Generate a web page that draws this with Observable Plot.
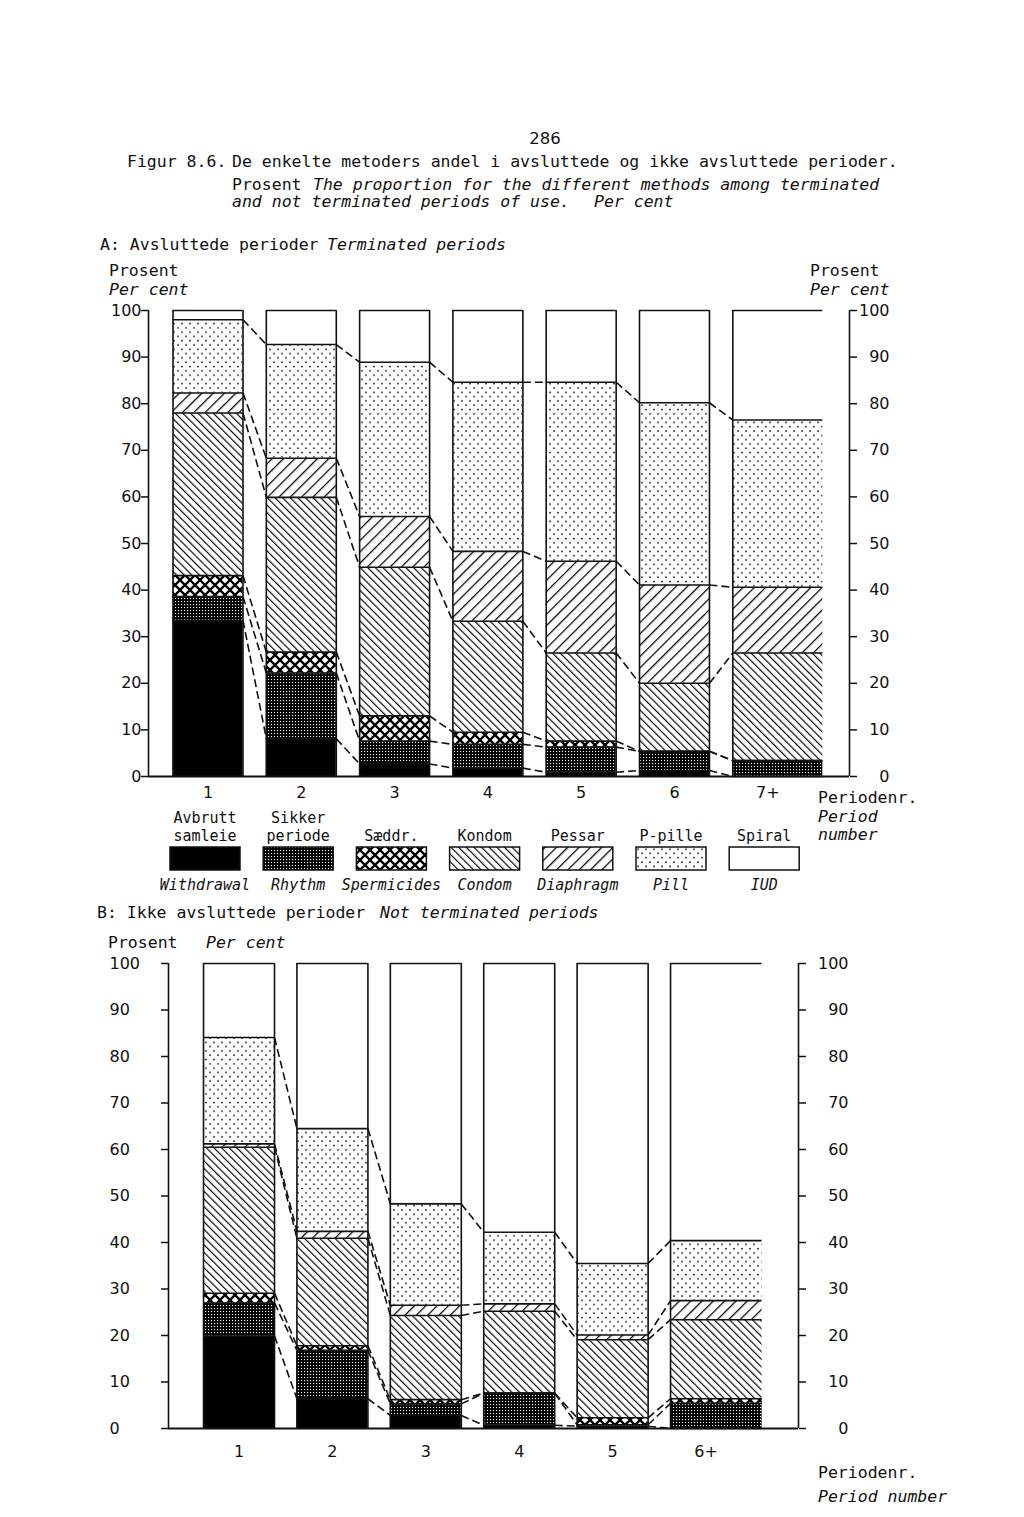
<!DOCTYPE html>
<html><head><meta charset="utf-8">
<script src="https://cdn.jsdelivr.net/npm/d3@7"></script>
<script src="https://cdn.jsdelivr.net/npm/@observablehq/plot@0.6"></script>
<style>
body{margin:0;background:#fff;}
#page{position:relative;width:1024px;height:1517px;overflow:hidden;background:#fff;}
#page > svg.plotA, #page > svg.plotB{position:absolute;left:0;}
#overlay{position:absolute;left:0;top:0;pointer-events:none;}
</style></head><body>
<svg width="0" height="0" style="position:absolute">
  <defs>
    <pattern id="p1" width="3" height="3" patternUnits="userSpaceOnUse">
      <rect width="3" height="3" fill="#000"/><rect x="1" y="1" width="1.1" height="1.1" fill="#fff"/>
    </pattern>
    <pattern id="p2" width="10" height="10" patternUnits="userSpaceOnUse">
      <rect width="10" height="10" fill="#fff"/>
      <path d="M-1,-1L11,11M11,-1L-1,11" stroke="#000" stroke-width="2.3"/>
    </pattern>
    <pattern id="p3" width="5.4" height="10" patternUnits="userSpaceOnUse" patternTransform="rotate(-45)">
      <rect width="5.4" height="10" fill="#fff"/><rect x="0" y="0" width="1.15" height="10" fill="#000"/>
    </pattern>
    <pattern id="p4" width="8" height="10" patternUnits="userSpaceOnUse" patternTransform="rotate(45)">
      <rect width="8" height="10" fill="#fff"/><rect x="0" y="0" width="1.25" height="10" fill="#000"/>
    </pattern>
    <pattern id="p5" width="8" height="8.6" patternUnits="userSpaceOnUse">
      <rect width="8" height="8.6" fill="#fff"/>
      <circle cx="2" cy="2" r="0.9" fill="#000"/><circle cx="6" cy="6.3" r="0.9" fill="#000"/>
    </pattern>
  </defs>
</svg>
<div id="page"></div>
<script>
// ---------- DATA ----------
const methodsNo = [["Avbrutt","samleie"],["Sikker","periode"],["Sæddr."],["Kondom"],["Pessar"],["P-pille"],["Spiral"]];
const methodsEn = ["Withdrawal","Rhythm","Spermicides","Condom","Diaphragm","Pill","IUD"];
const yTicks = [0,10,20,30,40,50,60,70,80,90,100];

// A: terminated periods (per cent of each method)
const periodsA = ["1","2","3","4","5","6","7+"];
const withdrawalA  = [33.5, 8.1, 2.7, 1.8, 0.9, 1.3, 0];
const rhythmA      = [5.1, 14.1, 4.9, 5.1, 5.4, 4.1, 3.4];
const spermicidesA = [4.5, 4.5, 5.4, 2.6, 1.3, 0, 0];
const condomA      = [34.9, 33.2, 31.9, 23.8, 18.9, 14.6, 23.1];
const diaphragmA   = [4.3, 8.4, 10.9, 15.0, 19.7, 21.1, 14.1];
const pillA        = [15.7, 24.4, 33.1, 36.3, 38.4, 39.1, 35.9];
const iudA         = [2.0, 7.3, 11.1, 15.4, 15.4, 19.8, 23.5];

// B: not terminated periods
const periodsB = ["1","2","3","4","5","6+"];
const withdrawalB  = [19.9, 6.4, 2.8, 0.7, 0.5, 0];
const rhythmB      = [7.1, 10.4, 2.5, 6.9, 0.3, 5.4];
const spermicidesB = [2.1, 1.0, 0.9, 0, 1.5, 1.0];
const condomB      = [31.4, 23.1, 18.1, 17.6, 16.8, 17.0];
const diaphragmB   = [0.7, 1.5, 2.2, 1.6, 1.0, 4.1];
const pillB        = [22.9, 22.1, 21.8, 15.4, 15.4, 12.9];
const iudB         = [15.9, 35.5, 51.7, 57.8, 64.5, 59.6];

// ---------- STYLE ----------
const fills = ["#000","url(#p1)","url(#p2)","url(#p3)","url(#p4)","url(#p5)","#fff"];
const MONO = "DejaVu Sans Mono, monospace";
const NUM = "DejaVu Sans, sans-serif";
const INK = "#111";

function build(periods, series, hw, lastExt) {
  const n = periods.length;
  const rows = [], tops = [];
  periods.forEach((p, i) => {
    let y0 = 0; const t = [];
    series.forEach((s, k) => {
      const v = s[i];
      rows.push({idx: i + 1, k, y1: y0, y2: y0 + v,
        x1: i + 1 - hw, x2: i === n - 1 ? i + 1 + lastExt : i + 1 + hw});
      y0 += v; t.push(y0);
    });
    tops.push(t);
  });
  const links = [];
  for (let i = 0; i < n - 1; i++)
    for (let k = 0; k < series.length - 1; k++)
      links.push({x1: i + 1 + hw, y1: tops[i][k], x2: i + 2 - hw, y2: tops[i + 1][k]});
  const edges = [];
  for (let i = 0; i < n; i++) {
    edges.push({x: i + 1 - hw});
    if (i < n - 1) edges.push({x: i + 1 + hw});
  }
  return {rows, links, edges};
}

function chart(periods, series, cfg) {
  const {rows, links, edges} = build(periods, series, cfg.hw, cfg.lastExt);
  return Plot.plot({
    width: 1024, height: cfg.height,
    marginLeft: cfg.ml, marginRight: cfg.mr, marginTop: cfg.mt, marginBottom: cfg.mb,
    x: {domain: cfg.xdom, axis: null},
    y: {domain: [0, 100], axis: null},
    color: {type: "identity"},
    style: {fontFamily: NUM, fontSize: "16px", color: INK, background: "transparent", overflow: "visible"},
    marks: [
      Plot.rect(rows, {x1: "x1", x2: "x2", y1: "y1", y2: "y2", fill: d => fills[d.k]}),
      Plot.link(links, {x1: "x1", y1: "y1", x2: "x2", y2: "y2", stroke: INK, strokeWidth: 1.6, strokeDasharray: "8,4"}),
      Plot.ruleY(rows, {x1: "x1", x2: "x2", y: "y2", stroke: INK, strokeWidth: 1.6}),
      Plot.ruleX(edges, {x: "x", y1: 0, y2: 100, stroke: INK, strokeWidth: 1.6}),
      Plot.ruleX([cfg.xdom[0], cfg.xdom[1]], {y1: 0, y2: 100, stroke: INK, strokeWidth: 1.6}),
      Plot.ruleY([0], {stroke: INK, strokeWidth: 1.8}),
      Plot.axisY({anchor: "left", ticks: yTicks, tickFormat: d => String(d), tickSize: 7, tickPadding: cfg.lPad,
        textAnchor: cfg.lAnchor, stroke: INK, strokeWidth: 1.5, fontSize: 16}),
      Plot.axisY({anchor: "right", ticks: yTicks, tickFormat: d => String(d), tickSize: 7, tickPadding: cfg.rPad,
        textAnchor: "end", stroke: INK, strokeWidth: 1.5, fontSize: 16}),
      Plot.axisX({ticks: d3.range(1, periods.length + 1), tickFormat: i => periods[i - 1],
        tickSize: 0, tickPadding: cfg.xPad, fontSize: 16})
    ]
  });
}

const page = document.getElementById("page");

const A = chart(periodsA, [withdrawalA, rhythmA, spermicidesA, condomA, diaphragmA, pillA, iudA], {
  height: 510, ml: 148, mr: 175, mt: 10, mb: 34, xdom: [0.362, 7.876], hw: 0.375, lastExt: 0.59,
  lPad: 0, lAnchor: "end", rPad: 33, xPad: 10
});
A.classList.add("plotA"); A.style.top = "300px";
page.appendChild(A);

const B = chart(periodsB, [withdrawalB, rhythmB, spermicidesB, condomB, diaphragmB, pillB, iudB], {
  height: 520, ml: 168, mr: 226, mt: 13, mb: 42, xdom: [0.245, 6.99], hw: 0.38, lastExt: 0.6,
  lPad: 52, lAnchor: "start", rPad: 43, xPad: 17
});
B.classList.add("plotB"); B.style.top = "950px";
page.appendChild(B);

// ---------- TEXT & LEGEND OVERLAY ----------
const ov = d3.select(page).append("svg").attr("id", "overlay")
  .attr("width", 1024).attr("height", 1517)
  .style("font-family", MONO).style("fill", INK);

const texts = [
  {x: 545, y: 144, s: "286", a: "middle", f: NUM},
  {x: 127, y: 167, s: "Figur 8.6."},
  {x: 232, y: 167, s: "De enkelte metoders andel i avsluttede og ikke avsluttede perioder."},
  {x: 232, y: 190, s: "Prosent"},
  {x: 313, y: 190, s: "The proportion for the different methods among terminated", i: true},
  {x: 232, y: 207, s: "and not terminated periods of use.", i: true},
  {x: 594, y: 207, s: "Per cent", i: true},
  {x: 100, y: 250, s: "A: Avsluttede perioder"},
  {x: 327, y: 250, s: "Terminated periods", i: true},
  {x: 109, y: 276, s: "Prosent"},
  {x: 109, y: 295, s: "Per cent", i: true},
  {x: 810, y: 276, s: "Prosent"},
  {x: 810, y: 295, s: "Per cent", i: true},
  {x: 818, y: 803, s: "Periodenr."},
  {x: 818, y: 822, s: "Period", i: true},
  {x: 818, y: 840, s: "number", i: true},
  {x: 97, y: 918, s: "B: Ikke avsluttede perioder"},
  {x: 380, y: 918, s: "Not terminated periods", i: true},
  {x: 108, y: 948, s: "Prosent"},
  {x: 206, y: 948, s: "Per cent", i: true},
  {x: 818, y: 1478, s: "Periodenr."},
  {x: 818, y: 1502, s: "Period number", i: true}
];
ov.selectAll("text.t").data(texts).join("text").attr("class", "t")
  .attr("x", d => d.x).attr("y", d => d.y).text(d => d.s)
  .attr("text-anchor", d => d.a || "start")
  .attr("font-size", 16.5)
  .attr("font-family", d => d.f || MONO)
  .attr("font-style", d => d.i ? "italic" : "normal")
  .style("white-space", "pre");

// legend (swatches aligned under the bars of chart A)
const legend = ov.append("g");
methodsEn.forEach((en, k) => {
  const x0 = 170 + k * 93.2, cx = x0 + 35;
  const no = methodsNo[k];
  no.forEach((line, j) => {
    legend.append("text").attr("x", cx).attr("y", 841 - (no.length - 1 - j) * 18)
      .attr("text-anchor", "middle").attr("font-size", 15).text(line);
  });
  legend.append("rect").attr("x", x0).attr("y", 847).attr("width", 70).attr("height", 23)
    .attr("fill", fills[k]).attr("stroke", INK).attr("stroke-width", 1.5);
  legend.append("text").attr("x", cx).attr("y", 890).attr("text-anchor", "middle")
    .attr("font-size", 15).attr("font-style", "italic").text(en);
});
</script>
</body></html>
